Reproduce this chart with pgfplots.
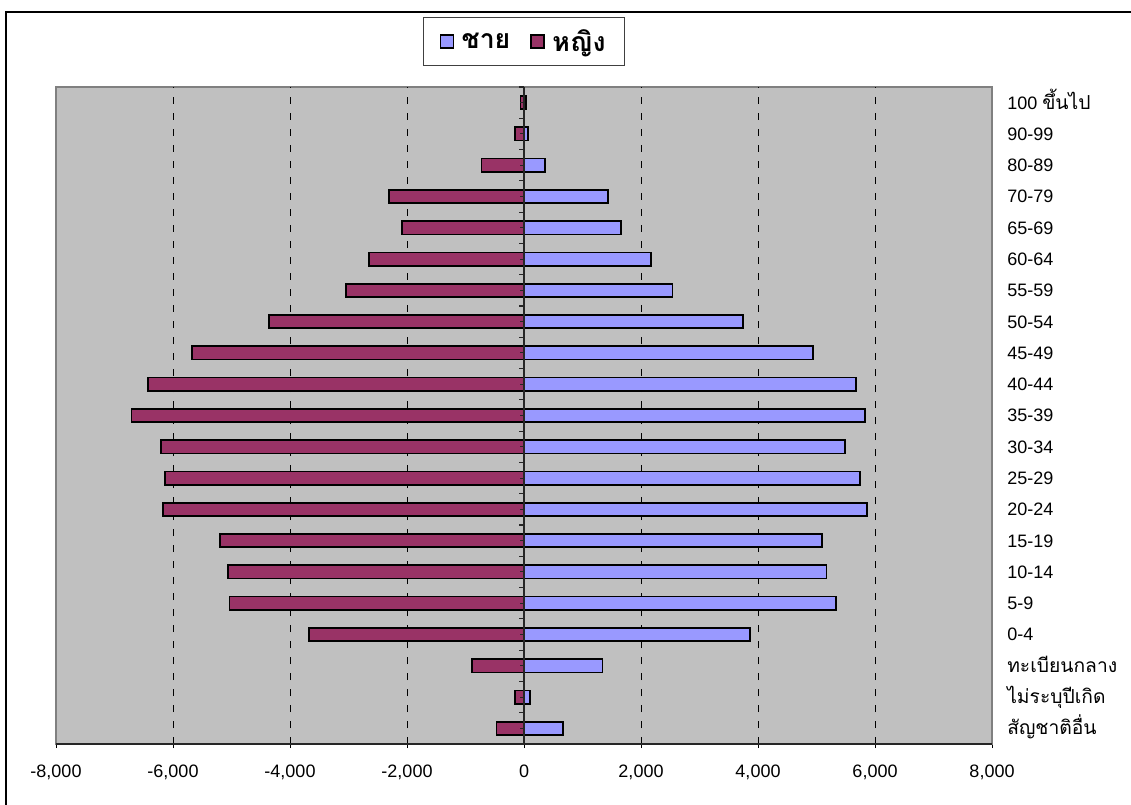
\documentclass[border=0pt]{standalone}
\usepackage{pgfplots}
\pgfplotsset{compat=1.18}
\usepackage{fontspec}
\setmainfont{Liberation Sans}
\newfontfamily\thaifont[Script=Thai,Scale=1.07]{Loma}
\definecolor{male}{HTML}{9999FF}
\definecolor{female}{HTML}{993366}
\definecolor{plotbg}{HTML}{C0C0C0}
\definecolor{frameg}{HTML}{808080}

% population by age group: male (positive) and female (negative)
\pgfplotstableread{
pos male female
0  670  -470
1  100  -155
2  1340 -885
3  3865 -3670
4  5330 -5035
5  5170 -5060
6  5100 -5195
7  5865 -6170
8  5745 -6140
9  5490 -6205
10 5835 -6710
11 5675 -6425
12 4945 -5670
13 3745 -4365
14 2540 -3040
15 2165 -2655
16 1655 -2090
17 1440 -2305
18 355  -725
19 65   -155
20 40   -60
}\pyramid

\begin{document}
\begin{tikzpicture}
\path[use as bounding box] (0pt,0pt) rectangle (848.25pt,-603.75pt);
\draw[black, line width=1pt] (4.5pt,-9pt) rectangle (880pt,-640pt);
\begin{axis}[
  at={(42pt,-558pt)}, anchor=south west,
  scale only axis, width=702pt, height=492.75pt,
  xmin=-8000, xmax=8000, ymin=-0.5, ymax=20.5,
  axis background/.style={fill=plotbg},
  axis line style={draw=frameg, line width=0.8pt},
  xtick={-8000,-6000,...,8000},
  xtick pos=bottom, tick align=outside,
  major tick length=3pt,
  x tick style={black, line width=0.6pt},
  extra x ticks={-6000,-4000,-2000,2000,4000,6000},
  extra x tick labels={},
  extra x tick style={grid=major, tick style={draw=none}},
  grid style={black, line width=0.75pt, dash pattern=on 5.5pt off 6.5pt},
  scaled x ticks=false,
  /pgf/number format/.cd, 1000 sep={,}, assume math mode=true, /pgfplots/.cd,
  x tick label style={font=\fontsize{13.5}{16}\selectfont, anchor=north, inner sep=0pt, yshift=-12.5pt},
  ytick={0,...,20},
  yticklabel pos=right,
  y tick style={draw=none},
  yticklabels={{\thaifont สัญชาติอื่น},{\thaifont ไม่ระบุปีเกิด},{\thaifont ทะเบียนกลาง},0-4,5-9,10-14,15-19,20-24,25-29,30-34,35-39,40-44,45-49,50-54,55-59,60-64,65-69,70-79,80-89,90-99,{100 {\thaifont ขึ้นไป}}},
  y tick label style={font=\fontsize{13.5}{16}\selectfont, anchor=base west, inner sep=0pt, xshift=8.25pt, yshift=-4.8pt},
  legend columns=2,
  legend style={at={(0.5,1.0693)}, anchor=center, draw=black!75, line width=0.6pt, fill=white,
    font=\thaifont\bfseries\fontsize{18.7}{21}\selectfont,
    inner xsep=12pt, inner ysep=7pt,
    /tikz/every even column/.append style={column sep=13pt}},
]
\addplot[xbar, bar shift=0pt, bar width=0.425, fill=male, draw=black, line width=1.3pt,
  legend image code/.code={\draw[fill=male,draw=black,line width=0.9pt] (0pt,-4.9pt) rectangle (9.75pt,4.9pt); \path[draw=none,fill=none] (0pt,0pt) rectangle (14pt,0.1pt);}]
  table[x=male, y=pos] {\pyramid};
\addplot[xbar, bar shift=0pt, bar width=0.425, fill=female, draw=black, line width=1.3pt,
  legend image code/.code={\draw[fill=female,draw=black,line width=0.9pt] (0pt,-4.9pt) rectangle (9.75pt,4.9pt); \path[draw=none,fill=none] (0pt,0pt) rectangle (14pt,0.1pt);}]
  table[x=female, y=pos] {\pyramid};
\legend{ชาย, หญิง}
% value axis at zero with category ticks
\draw[black!85, line width=1pt] (axis cs:0,-0.5) -- (axis cs:0,20.5);
\pgfplotsinvokeforeach{0,...,20}{
  \draw[black!85, line width=0.8pt] (axis cs:0,#1) -- ++(-3pt,0pt);
  \draw[black!85, line width=0.8pt] (axis cs:0,#1+0.5) -- ++(-4pt,0pt);
}
\draw[black!85, line width=1pt] (axis cs:-8000,-0.5) -- (axis cs:8000,-0.5);
\end{axis}
\end{tikzpicture}
\end{document}
